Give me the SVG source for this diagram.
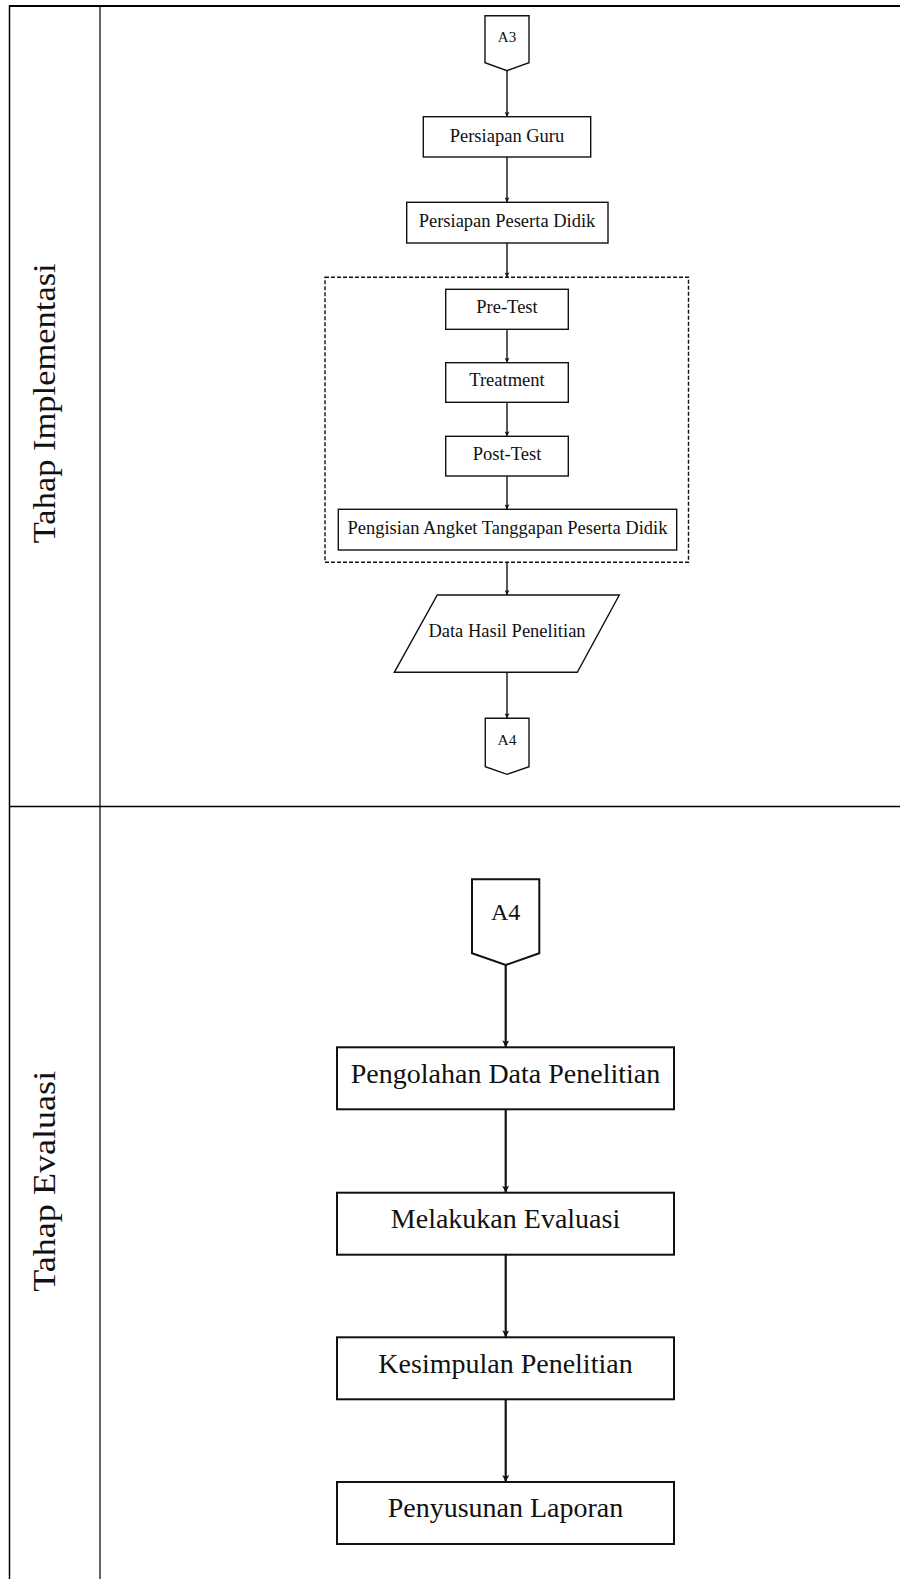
<svg xmlns="http://www.w3.org/2000/svg" width="900" height="1579" viewBox="0 0 900 1579">
<defs>
<style>
text{font-family:"Liberation Serif","Times New Roman",serif;fill:#111;text-anchor:middle}
.s{fill:#fff;stroke:#111;stroke-width:1.4}
.b{fill:#fff;stroke:#111;stroke-width:2}
.grid{stroke:#000;fill:none}
.c1{stroke:#111;stroke-width:1.4;fill:none}
.c2{stroke:#111;stroke-width:2.2;fill:none}
.t1{font-size:18.5px}
.t2{font-size:28px}
.lab{font-size:32px}
</style>
<marker id="ah1" viewBox="0 0 10 10" refX="10" refY="5" markerUnits="userSpaceOnUse" markerWidth="6" markerHeight="5" orient="auto">
<path d="M0,0 L10,5 L0,10 L2.5,5 z" fill="#111"/>
</marker>
<marker id="ah2" viewBox="0 0 10 10" refX="10" refY="5" markerUnits="userSpaceOnUse" markerWidth="9" markerHeight="7" orient="auto">
<path d="M0,0 L10,5 L0,10 L2.5,5 z" fill="#111"/>
</marker>
</defs>
<rect width="900" height="1579" fill="#fff"/>
<g id="table">
<line class="grid" x1="9" y1="6" x2="900" y2="6" stroke-width="2"/>
<line class="grid" x1="9.5" y1="5" x2="9.5" y2="1579" stroke-width="1.5"/>
<line class="grid" x1="100" y1="6" x2="100" y2="1579" stroke-width="1.2"/>
<line class="grid" x1="9" y1="806.5" x2="900" y2="806.5" stroke-width="1.5"/>
</g>
<g id="label-implementasi"><text class="lab" transform="translate(55,403.3) rotate(-90)" textLength="280" lengthAdjust="spacingAndGlyphs">Tahap Implementasi</text></g>
<g id="label-evaluasi"><text class="lab" transform="translate(55,1181.3) rotate(-90)" textLength="221" lengthAdjust="spacingAndGlyphs">Tahap Evaluasi</text></g>

<g id="group-test"><rect x="325" y="277.3" width="363.5" height="285" fill="none" stroke="#111" stroke-width="1.4" stroke-dasharray="4,2"/></g>

<g id="a3"><polygon class="s" points="485,15.7 529,15.7 529,62.7 507,70.7 485,62.7"/><text x="507" y="41.7" style="font-size:15px">A3</text></g>
<g id="persiapan-guru"><rect class="s" x="423.3" y="116.7" width="167.4" height="40.3"/><text class="t1" x="507" y="141.7">Persiapan Guru</text></g>
<g id="persiapan-peserta"><rect class="s" x="406.7" y="202.3" width="201.3" height="40.7"/><text class="t1" x="507" y="227">Persiapan Peserta Didik</text></g>
<g id="pre-test"><rect class="s" x="445.7" y="289.3" width="122.6" height="40"/><text class="t1" x="507" y="312.5">Pre-Test</text></g>
<g id="treatment"><rect class="s" x="445.7" y="362.7" width="122.6" height="39.6"/><text class="t1" x="507" y="386">Treatment</text></g>
<g id="post-test"><rect class="s" x="445.7" y="436.3" width="122.6" height="39.7"/><text class="t1" x="507" y="459.5">Post-Test</text></g>
<g id="pengisian"><rect class="s" x="338.3" y="509.3" width="338.4" height="40.7"/><text class="t1" x="507.5" y="533.5">Pengisian Angket Tanggapan Peserta Didik</text></g>
<g id="data-hasil"><polygon class="s" points="437.3,595 619.3,595 577.3,672.3 394.3,672.3"/><text class="t1" x="507" y="637.3">Data Hasil Penelitian</text></g>
<g id="a4-top"><polygon class="s" points="485.3,718.3 529,718.3 529,766.7 507,774.3 485.3,766.7"/><text x="507" y="745.3" style="font-size:15.5px">A4</text></g>

<g id="a4-bottom"><polygon class="b" points="472,879.3 539.3,879.3 539.3,953.3 505.7,965 472,953.3"/><text x="505.7" y="920" style="font-size:24px">A4</text></g>
<g id="pengolahan"><rect class="b" x="337" y="1047.3" width="337" height="62"/><text class="t2" x="505.5" y="1083">Pengolahan Data Penelitian</text></g>
<g id="melakukan"><rect class="b" x="337" y="1192.7" width="337" height="62"/><text class="t2" x="505.5" y="1228.3">Melakukan Evaluasi</text></g>
<g id="kesimpulan"><rect class="b" x="337" y="1337.3" width="337" height="62"/><text class="t2" x="505.5" y="1372.5">Kesimpulan Penelitian</text></g>
<g id="penyusunan"><rect class="b" x="337" y="1482" width="337" height="62"/><text class="t2" x="505.5" y="1516.7">Penyusunan Laporan</text></g>

<g id="connectors">
<line class="c1" x1="507" y1="70.7" x2="507" y2="116.7" marker-end="url(#ah1)"/>
<line class="c1" x1="507" y1="157" x2="507" y2="202.3" marker-end="url(#ah1)"/>
<line class="c1" x1="507" y1="243" x2="507" y2="277.3" marker-end="url(#ah1)"/>
<line class="c1" x1="507" y1="329.3" x2="507" y2="362.7" marker-end="url(#ah1)"/>
<line class="c1" x1="507" y1="402.3" x2="507" y2="436.3" marker-end="url(#ah1)"/>
<line class="c1" x1="507" y1="476" x2="507" y2="509.3" marker-end="url(#ah1)"/>
<line class="c1" x1="507" y1="562.3" x2="507" y2="595" marker-end="url(#ah1)"/>
<line class="c1" x1="507" y1="672.3" x2="507" y2="718.3" marker-end="url(#ah1)"/>
<line class="c2" x1="505.7" y1="965" x2="505.7" y2="1047.3" marker-end="url(#ah2)"/>
<line class="c2" x1="505.7" y1="1109.3" x2="505.7" y2="1192.7" marker-end="url(#ah2)"/>
<line class="c2" x1="505.7" y1="1254.7" x2="505.7" y2="1337.3" marker-end="url(#ah2)"/>
<line class="c2" x1="505.7" y1="1399.3" x2="505.7" y2="1482" marker-end="url(#ah2)"/>
</g>
</svg>
